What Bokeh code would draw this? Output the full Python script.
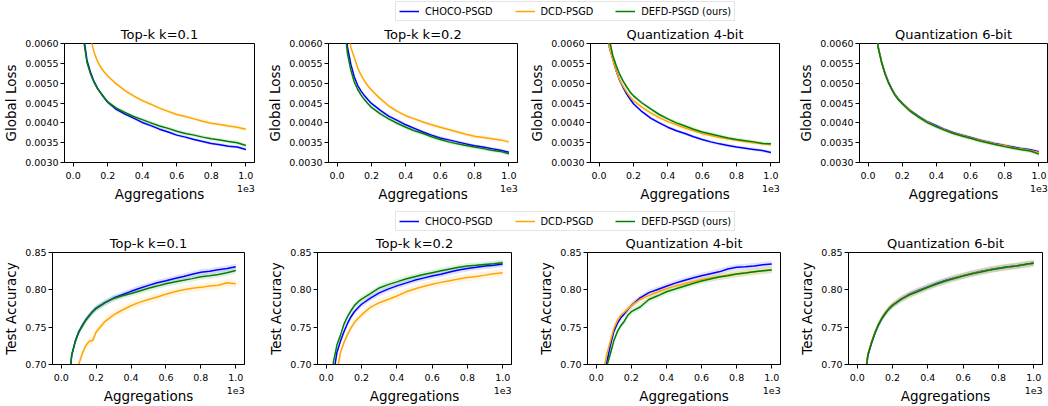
from bokeh.plotting import figure
from bokeh.layouts import column, row
from bokeh.models import Range1d, FixedTicker, NumeralTickFormatter, Legend, LegendItem
from bokeh.embed import file_html
from bokeh.resources import INLINE

FONT = "DejaVu Sans"
NAMES = ["CHOCO-PSGD", "DCD-PSGD", "DEFD-PSGD (ours)"]
COLORS = ["#0000ff", "#ffa500", "#008000"]

# aggregations, in units of 1e3
X = [0.0, 0.02, 0.04, 0.06, 0.08, 0.10, 0.12, 0.14, 0.16, 0.18, 0.20, 0.25, 0.30, 0.35,
     0.40, 0.45, 0.50, 0.55, 0.60, 0.65, 0.70, 0.75, 0.80, 0.85, 0.90, 0.95, 1.00]

TITLES = ["Top-k k=0.1", "Top-k k=0.2", "Quantization 4-bit", "Quantization 6-bit"]

# ---- Global loss (row 1): [CHOCO, DCD, DEFD] per panel
LOSS_TK1 = [
    [0.0125, 0.0098, 0.0077, 0.0062, 0.00558, 0.00528, 0.00505, 0.00488, 0.00475, 0.00463, 0.00452, 0.00434, 0.00422, 0.00412,
     0.00401, 0.00393, 0.00384, 0.00377, 0.00369, 0.00364, 0.00358, 0.00353, 0.00348, 0.00345, 0.00341, 0.00339, 0.00333],
    [0.0160, 0.0122, 0.0094, 0.0077, 0.0067, 0.00615, 0.0058, 0.00556, 0.0054, 0.00528, 0.00518, 0.00498, 0.00481, 0.00468,
     0.00456, 0.00447, 0.00437, 0.00429, 0.00421, 0.00416, 0.0041, 0.00404, 0.00399, 0.00396, 0.00392, 0.00389, 0.00384],
    [0.0123, 0.0096, 0.0076, 0.0061, 0.00552, 0.00524, 0.00503, 0.00487, 0.00475, 0.00464, 0.00453, 0.00437, 0.00426, 0.00416,
     0.00408, 0.0040, 0.00392, 0.00386, 0.00379, 0.00373, 0.00369, 0.00364, 0.0036, 0.00357, 0.00353, 0.0035, 0.00343],
]
LOSS_TK2 = [
    [0.0115, 0.0088, 0.0070, 0.00592, 0.00548, 0.00516, 0.00494, 0.0048, 0.00468, 0.00458, 0.00449, 0.00432, 0.00417, 0.00406,
     0.00395, 0.00386, 0.00377, 0.00369, 0.00362, 0.00357, 0.00352, 0.00347, 0.00342, 0.00339, 0.00335, 0.00331, 0.00326],
    [0.0140, 0.0105, 0.0082, 0.0066, 0.0059, 0.00565, 0.00538, 0.0052, 0.00505, 0.00493, 0.00483, 0.00461, 0.00443, 0.00429,
     0.00418, 0.0041, 0.00402, 0.00395, 0.00389, 0.00383, 0.00377, 0.00371, 0.00366, 0.00363, 0.0036, 0.00357, 0.00352],
    [0.0110, 0.0084, 0.0066, 0.00575, 0.00533, 0.00503, 0.00484, 0.0047, 0.00458, 0.00448, 0.00439, 0.00423, 0.0041, 0.00399,
     0.00389, 0.0038, 0.00373, 0.00365, 0.00358, 0.00352, 0.00347, 0.00343, 0.00339, 0.00335, 0.00331, 0.00328, 0.00322],
]
LOSS_Q4 = [
    [0.0120, 0.0089, 0.0068, 0.0059, 0.0056, 0.0053, 0.00507, 0.00489, 0.00473, 0.0046, 0.00448, 0.00428, 0.00412, 0.0040,
     0.00389, 0.0038, 0.00373, 0.00365, 0.00358, 0.00352, 0.00347, 0.00343, 0.00339, 0.00336, 0.00333, 0.0033, 0.00325],
    [0.0120, 0.0089, 0.0068, 0.0059, 0.0056, 0.0053, 0.00508, 0.00492, 0.00478, 0.00466, 0.00456, 0.00439, 0.00425, 0.00413,
     0.00403, 0.00395, 0.00387, 0.0038, 0.00373, 0.00368, 0.00363, 0.0036, 0.00356, 0.00353, 0.0035, 0.00348, 0.00345],
    [0.0125, 0.0093, 0.0072, 0.0061, 0.0057, 0.00544, 0.00522, 0.00505, 0.00491, 0.00478, 0.00468, 0.0045, 0.00435, 0.00421,
     0.0041, 0.0040, 0.00392, 0.00384, 0.00377, 0.00372, 0.00367, 0.00362, 0.00358, 0.00355, 0.00352, 0.00348, 0.00347],
]
LOSS_Q6 = [
    [0.0118, 0.0088, 0.0068, 0.0059, 0.00553, 0.00525, 0.00503, 0.00485, 0.0047, 0.00459, 0.0045, 0.0043, 0.00415, 0.00402,
     0.00393, 0.00383, 0.00375, 0.00369, 0.00363, 0.00357, 0.00352, 0.00347, 0.00343, 0.00339, 0.00335, 0.00332, 0.00327],
    [0.0118, 0.0088, 0.0068, 0.0059, 0.00551, 0.00523, 0.00501, 0.00484, 0.00469, 0.00458, 0.00449, 0.00429, 0.00414, 0.00401,
     0.00391, 0.00382, 0.00374, 0.00368, 0.00362, 0.00356, 0.00351, 0.00346, 0.00342, 0.00337, 0.00334, 0.0033, 0.00325],
    [0.0117, 0.0087, 0.0068, 0.00588, 0.0055, 0.00522, 0.0050, 0.00483, 0.00468, 0.00457, 0.00448, 0.00428, 0.00413, 0.0040,
     0.0039, 0.00381, 0.00373, 0.00367, 0.00361, 0.00355, 0.0035, 0.00345, 0.0034, 0.00336, 0.00332, 0.00329, 0.00321],
]

# ---- Test accuracy (row 2): [CHOCO, DCD, DEFD] per panel
ACC_TK1 = [
    [0.45, 0.58, 0.665, 0.712, 0.731, 0.743, 0.752, 0.7595, 0.7655, 0.771, 0.7755, 0.7828, 0.789, 0.7935,
     0.798, 0.8022, 0.806, 0.8095, 0.8123, 0.8152, 0.8178, 0.821, 0.8236, 0.825, 0.8268, 0.8285, 0.831],
    [0.35, 0.48, 0.58, 0.64, 0.678, 0.700, 0.714, 0.725, 0.731, 0.732, 0.7435, 0.7575, 0.7665, 0.773,
     0.7787, 0.7835, 0.787, 0.7905, 0.794, 0.7975, 0.800, 0.802, 0.8033, 0.805, 0.8062, 0.8095, 0.8082],
    [0.45, 0.58, 0.666, 0.713, 0.730, 0.744, 0.751, 0.759, 0.765, 0.7705, 0.775, 0.7825, 0.7885, 0.792,
     0.795, 0.7985, 0.802, 0.805, 0.8082, 0.8105, 0.8127, 0.815, 0.8176, 0.819, 0.8205, 0.8228, 0.8258],
]
ACC_TK2 = [
    [0.42, 0.57, 0.685, 0.716, 0.731, 0.7438, 0.755, 0.764, 0.771, 0.776, 0.7807, 0.7889, 0.7959, 0.801,
     0.8053, 0.809, 0.8127, 0.8157, 0.8184, 0.821, 0.8238, 0.8265, 0.8287, 0.8302, 0.832, 0.833, 0.8345],
    [0.38, 0.50, 0.62, 0.69, 0.716, 0.7295, 0.740, 0.749, 0.7565, 0.7615, 0.7664, 0.7766, 0.7828, 0.787,
     0.7918, 0.797, 0.8012, 0.8045, 0.8074, 0.810, 0.8123, 0.8145, 0.8164, 0.818, 0.8197, 0.8215, 0.823],
    [0.45, 0.60, 0.703, 0.726, 0.739, 0.754, 0.764, 0.772, 0.7792, 0.7838, 0.7877, 0.795, 0.8025, 0.807,
     0.8107, 0.8145, 0.8176, 0.8205, 0.823, 0.8255, 0.8279, 0.8302, 0.832, 0.8328, 0.834, 0.835, 0.8362],
]
ACC_Q4 = [
    [0.42, 0.56, 0.66, 0.703, 0.725, 0.744, 0.755, 0.7625, 0.768, 0.7735, 0.7789, 0.7892, 0.7962, 0.8005,
     0.8048, 0.809, 0.8126, 0.8158, 0.8188, 0.8215, 0.8241, 0.828, 0.8303, 0.831, 0.8319, 0.8335, 0.8345],
    [0.45, 0.60, 0.69, 0.714, 0.731, 0.748, 0.759, 0.766, 0.770, 0.7745, 0.7789, 0.7871, 0.7925, 0.797,
     0.8015, 0.805, 0.8077, 0.811, 0.8138, 0.816, 0.818, 0.8198, 0.8212, 0.8228, 0.8241, 0.8255, 0.827],
    [0.40, 0.53, 0.63, 0.698, 0.714, 0.7317, 0.744, 0.752, 0.758, 0.766, 0.7707, 0.777, 0.7871, 0.792,
     0.7974, 0.801, 0.8048, 0.8085, 0.8118, 0.8145, 0.8171, 0.819, 0.8212, 0.8225, 0.8241, 0.8255, 0.8265],
]
ACC_Q6 = [
    [0.42, 0.57, 0.675, 0.712, 0.728, 0.742, 0.753, 0.762, 0.769, 0.775, 0.7795, 0.788, 0.7945, 0.7995,
     0.804, 0.8085, 0.8125, 0.816, 0.819, 0.822, 0.8245, 0.827, 0.829, 0.8305, 0.832, 0.834, 0.8355],
    [0.42, 0.57, 0.68, 0.714, 0.730, 0.743, 0.754, 0.7625, 0.7695, 0.775, 0.7795, 0.7878, 0.794, 0.799,
     0.8035, 0.808, 0.812, 0.8155, 0.8188, 0.8218, 0.8243, 0.8268, 0.8288, 0.8302, 0.8318, 0.8335, 0.8352],
    [0.42, 0.57, 0.678, 0.713, 0.729, 0.7425, 0.7535, 0.762, 0.769, 0.7748, 0.7792, 0.7875, 0.7938, 0.7985,
     0.8035, 0.8078, 0.8118, 0.8152, 0.8185, 0.8215, 0.824, 0.8265, 0.8287, 0.8305, 0.832, 0.8338, 0.8358],
]

# shaded spread (half width) per series
LOSS_SPREAD = [0.00004, 0.00005, 0.00005]
ACC_SPREAD = [0.004, 0.005, 0.004]

LOSS_TICKS = [0.0030, 0.0035, 0.0040, 0.0045, 0.0050, 0.0055, 0.0060]
ACC_TICKS = [0.70, 0.75, 0.80, 0.85]
X_TICKS = [0.0, 0.2, 0.4, 0.6, 0.8, 1.0]
X_TICK_LABELS = ["0.0", "0.2", "0.4", "0.6", "0.8", "1.0\n1e3"]


def panel(title, series, spread, yr, yticks, yfmt, ylabel, w, h, bl, br, bt, bb):
    p = figure(width=w, height=h, x_range=Range1d(-0.05, 1.05), y_range=Range1d(*yr),
               output_backend="svg", toolbar_location=None,
               min_border_left=bl, min_border_right=br, min_border_top=bt, min_border_bottom=bb)
    p.grid.visible = False
    p.outline_line_color = "black"
    p.outline_line_width = 1
    p.title.text = title
    p.title.align = "center"
    p.title.text_font = FONT
    p.title.text_font_size = "13px"
    p.title.text_font_style = "normal"
    p.title.text_color = "black"
    p.title.standoff = 3
    for ys, sp, c in zip(series, spread, COLORS):
        lo = [v - sp for v in ys]
        hi = [v + sp for v in ys]
        p.varea(x=X, y1=lo, y2=hi, fill_color=c, fill_alpha=0.12)
    for ys, c in zip(series, COLORS):
        p.line(X, ys, line_color=c, line_width=1.5)
    for ax in (p.xaxis[0], p.yaxis[0]):
        ax.axis_line_color = "black"
        ax.major_tick_line_color = "black"
        ax.major_tick_out = 4
        ax.major_tick_in = 0
        ax.minor_tick_line_color = None
        ax.major_label_text_font = FONT
        ax.major_label_text_font_size = "9.5px"
        ax.major_label_text_color = "black"
        ax.major_label_standoff = 2
        ax.axis_label_text_font = FONT
        ax.axis_label_text_font_size = "13.5px"
        ax.axis_label_text_font_style = "normal"
        ax.axis_label_text_color = "black"
    p.yaxis.axis_label_standoff = 3
    p.xaxis.major_label_standoff = 3
    p.xaxis.axis_label_standoff = -11
    p.xaxis.ticker = FixedTicker(ticks=X_TICKS)
    p.xaxis.formatter = NumeralTickFormatter(format="0.0")
    p.xaxis.major_label_overrides = {t: s for t, s in zip(X_TICKS, X_TICK_LABELS)}
    p.xaxis.axis_label = "Aggregations"
    p.yaxis.ticker = FixedTicker(ticks=yticks)
    p.yaxis.formatter = NumeralTickFormatter(format=yfmt)
    p.yaxis.axis_label = ylabel
    return p


def legend_fig(h, ybot):
    f = figure(width=1048, height=h, x_range=Range1d(0, 1), y_range=Range1d(0, 1),
               x_axis_type=None, y_axis_type=None, output_backend="svg",
               toolbar_location=None, min_border=0)
    f.grid.visible = False
    f.outline_line_color = None
    rs = [f.line([5, 6], [5, 5], line_color=c, line_width=1.5) for c in COLORS]
    leg = Legend(items=[LegendItem(label=n, renderers=[r]) for n, r in zip(NAMES, rs)],
                 orientation="horizontal", location=(395, ybot), margin=0, padding=3,
                 spacing=22, glyph_width=20, glyph_height=12, label_height=12, label_width=10,
                 label_standoff=6, label_text_font=FONT, label_text_font_size="9.8px",
                 label_text_color="black", border_line_color="#cccccc", border_line_width=1,
                 background_fill_color="white", background_fill_alpha=1)
    f.add_layout(leg)
    return f


W1 = [264, 262, 269, 253]
B1 = [(63, 10), (61, 9), (61, 16), (61, 1)]
W2 = [264, 262, 269, 253]
B2 = [(52, 20), (53, 15), (61, 15), (53, 6)]
LOSS = [LOSS_TK1, LOSS_TK2, LOSS_Q4, LOSS_Q6]
ACC = [ACC_TK1, ACC_TK2, ACC_Q4, ACC_Q6]

row1 = [panel(TITLES[i], LOSS[i], LOSS_SPREAD, (0.003, 0.006), LOSS_TICKS, "0.0000", "Global Loss",
              W1[i], 187, B1[i][0], B1[i][1], 19, 48) for i in range(4)]
row2 = [panel(TITLES[i], ACC[i], ACC_SPREAD, (0.70, 0.85), ACC_TICKS, "0.00", "Test Accuracy",
              W2[i], 174, B2[i][0], B2[i][1], 19, 34) for i in range(4)]

layout = column(legend_fig(23, 2), row(row1, spacing=0), legend_fig(22, 1), row(row2, spacing=0),
                spacing=0)

open("out.html", "w").write(file_html(layout, INLINE))
